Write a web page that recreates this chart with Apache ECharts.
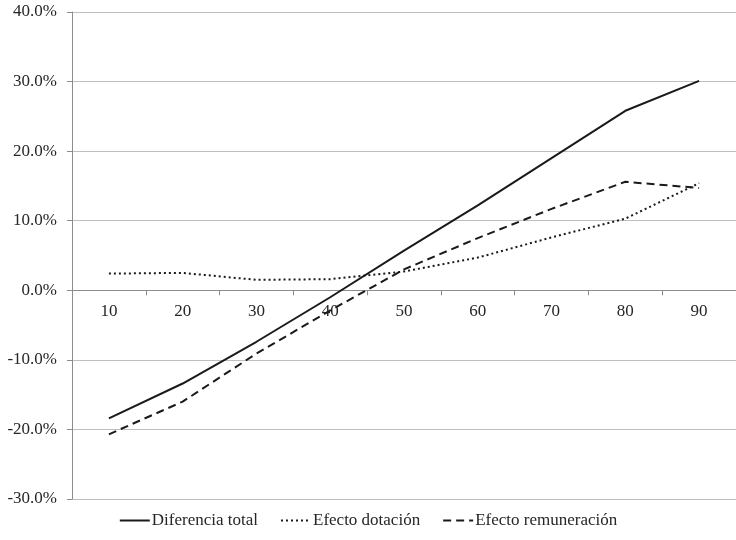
<!DOCTYPE html>
<html>
<head>
<meta charset="utf-8">
<script src="https://cdn.jsdelivr.net/npm/echarts@6/dist/echarts.min.js"></script>
<style>html,body{margin:0;padding:0;background:#fff}#c{width:736px;height:540px}</style>
</head>
<body>
<div id="c"></div>
<script>
const categories = ['10','20','30','40','50','60','70','80','90'];
const diferenciaTotal = [-18.4, -13.4, -7.4, -1.0, 5.7, 12.2, 19.0, 25.8, 30.1];
const efectoDotacion = [2.4, 2.5, 1.5, 1.6, 2.7, 4.7, 7.6, 10.3, 15.4];
const efectoRemuneracion = [-20.7, -16.0, -9.1, -2.9, 3.0, 7.5, 11.7, 15.6, 14.7];
const seriesNames = ['Diferencia total', 'Efecto dotación', 'Efecto remuneración'];
const yMin = -30, yMax = 40, yStep = 10;

const font = 'Liberation Serif';
const fs = 17;
const gridH = 487;
const zeroOffset = -gridH * (0 - yMin) / (yMax - yMin);
const chart = echarts.init(document.getElementById('c'), null, {renderer: 'canvas'});
function mk(name, data, type) {
  return {
    name: name, type: 'line', data: data, symbol: 'none', showSymbol: false,
    lineStyle: {color: '#1a1a1a', width: 2, type: type},
    itemStyle: {color: '#1a1a1a'},
    animation: false
  };
}
chart.setOption({
  animation: false,
  textStyle: {fontFamily: font},
  grid: {left: 72, top: 12, width: 675, height: gridH},
  legend: {
    bottom: 6, left: 'center', itemWidth: 30, itemHeight: 14, itemGap: 22,
    textStyle: {fontFamily: font, fontSize: fs, color: '#262626', padding: [0, 0, 0, -3]},
    itemStyle: {color: 'rgba(0,0,0,0)', borderColor: 'rgba(0,0,0,0)', borderWidth: 0, opacity: 0},
    data: seriesNames
  },
  xAxis: {
    type: 'category', data: categories, boundaryGap: true,
    position: 'bottom', offset: zeroOffset,
    axisLine: {onZero: false, lineStyle: {color: '#8c8c8c', width: 1}},
    axisTick: {show: true, length: 5, lineStyle: {color: '#8c8c8c'}},
    axisLabel: {fontFamily: font, fontSize: fs, color: '#262626', margin: 13},
    splitLine: {show: false}
  },
  yAxis: {
    type: 'value', min: yMin, max: yMax, interval: yStep,
    axisLine: {show: true, lineStyle: {color: '#8c8c8c', width: 1}},
    axisTick: {show: true, length: 5, lineStyle: {color: '#8c8c8c'}},
    axisLabel: {fontFamily: font, fontSize: fs, color: '#262626', margin: 15,
      formatter: v => v.toFixed(1) + '%'},
    splitLine: {show: true, lineStyle: {color: '#bfbfbf', width: 1}}
  },
  series: [
    mk(seriesNames[0], diferenciaTotal, 'solid'),
    mk(seriesNames[1], efectoDotacion, [2, 3]),
    mk(seriesNames[2], efectoRemuneracion, [8, 5])
  ]
});
</script>
</body>
</html>
